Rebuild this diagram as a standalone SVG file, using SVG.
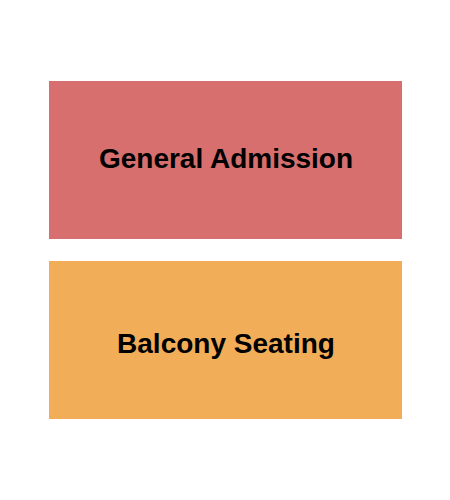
<svg xmlns="http://www.w3.org/2000/svg" width="450" height="500" viewBox="0 0 450 500">
<style>
.lbl{font-family:"Liberation Sans",Arial,sans-serif;font-weight:bold;font-size:28px;fill:#000;text-anchor:middle}
</style>
<rect width="450" height="500" fill="#fff"/>
<g id="general-admission">
<rect x="49" y="81" width="353" height="158" fill="#D66F6D"/>
<text class="lbl" x="226" y="168">General Admission</text>
</g>
<g id="balcony-seating">
<rect x="49" y="261" width="353" height="158" fill="#F2AD58"/>
<text class="lbl" x="226" y="353">Balcony Seating</text>
</g>
<g id="connectors"/>
</svg>
